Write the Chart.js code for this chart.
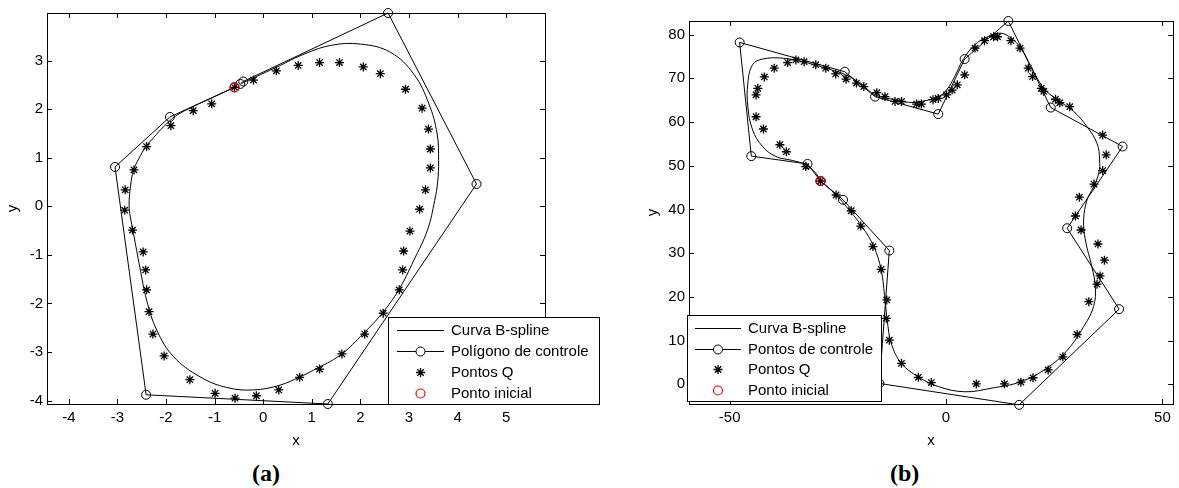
<!DOCTYPE html>
<html>
<head>
<meta charset="utf-8">
<script src="https://cdn.jsdelivr.net/npm/chart.js@4.4.1/dist/chart.umd.min.js"></script>
<style>
body { margin: 0; background: #fff; width: 1179px; height: 488px; position: relative; overflow: hidden; }
#chartA { position: absolute; left: 0; top: 0; }
#chartB { position: absolute; left: 640px; top: 0; }
.cap { position: absolute; top: 461px; font: bold 24px "Liberation Serif", "Times New Roman", serif; line-height: 24px; color: #000; }
</style>
</head>
<body>
<canvas id="chartA" width="600" height="450"></canvas>
<canvas id="chartB" width="539" height="450"></canvas>
<div class="cap" style="left:252px">(a)</div>
<div class="cap" style="left:890px">(b)</div>
<script>
// ---- data (a) ----
const curveA = [[-0.59,2.45],[-1.00,2.26],[-1.45,2.05],[-1.80,1.86],[-2.05,1.64],[-2.25,1.42],[-2.42,1.22],
  [-2.56,0.98],[-2.67,0.74],[-2.73,0.42],[-2.76,0.00],[-2.72,-0.30],[-2.67,-0.56],[-2.54,-1.25],[-2.40,-1.93],
  [-2.19,-2.55],[-1.85,-3.09],[-1.30,-3.51],[-0.75,-3.73],[-0.20,-3.78],[0.35,-3.68],[0.76,-3.51],[1.04,-3.37],
  [1.59,-3.06],[2.07,-2.61],[2.45,-2.20],[2.79,-1.72],[3.10,-1.11],[3.38,-0.49],[3.53,0.12],[3.59,0.50],
  [3.61,0.94],[3.58,1.49],[3.41,2.11],[3.10,2.72],[2.62,3.17],[2.00,3.34],[1.38,3.31],[0.76,3.10],[0.35,2.90],[-0.45,2.53]];
const polyA = [[-0.59,2.45],[-1.92,1.84],[-3.05,0.81],[-2.41,-3.88],[1.33,-4.07],[4.39,0.46],[2.57,3.98],[-0.41,2.57],[-0.47,2.52]];
const qA = [[-0.59,2.45],[-0.20,2.60],[0.27,2.79],[0.72,2.90],[1.16,2.96],[1.57,2.96],[2.06,2.87],[2.41,2.73],
  [2.93,2.41],[3.27,2.02],[3.40,1.59],[3.44,1.18],[3.44,0.79],[3.34,0.34],[3.22,-0.06],[3.02,-0.51],[2.89,-0.92],
  [2.87,-1.31],[2.80,-1.72],[2.47,-2.20],[2.09,-2.63],[1.62,-3.04],[1.16,-3.35],[0.75,-3.52],[0.32,-3.78],
  [-0.14,-3.90],[-0.58,-3.95],[-0.99,-3.85],[-1.51,-3.57],[-2.04,-3.08],[-2.27,-2.63],[-2.35,-2.17],[-2.40,-1.72],
  [-2.42,-1.31],[-2.47,-0.94],[-2.69,-0.49],[-2.85,-0.08],[-2.84,0.34],[-2.66,0.75],[-2.40,1.23],[-1.90,1.66],
  [-1.44,1.97],[-1.06,2.11]];
const startA = [-0.59,2.45];
const xTicksA = [-4,-3,-2,-1,0,1,2,3,4,5];
const yTicksA = [-4,-3,-2,-1,0,1,2,3];

// ---- data (b) ----
const curveB = [[-29.0,46.5],[-25.5,43.4],[-22.1,39.5],[-19.4,36.1],[-16.7,31.5],[-15.0,26.2],[-14.1,19.3],
  [-13.6,14.7],[-12.6,9.2],[-10.3,4.8],[-6.4,1.7],[-1.8,-0.5],[4.3,-1.7],[10.4,-0.9],[17.3,0.6],[23.3,3.7],
  [28.0,7.8],[31.8,13.2],[34.1,17.8],[34.5,22.3],[33.7,26.9],[32.2,33.0],[31.8,37.6],[32.6,42.2],[34.1,45.2],
  [35.3,48.3],[35.5,51.3],[34.9,55.1],[32.6,58.9],[29.5,62.4],[25.7,65.1],[22.6,67.7],[19.6,72.7],[17.3,76.9],
  [15.0,79.2],[12.7,80.3],[9.6,79.5],[6.6,77.6],[3.9,74.2],[2.0,70.4],[0.1,67.3],[-1.8,65.8],[-5.7,64.7],
  [-8.7,64.5],[-11.8,65.1],[-16.4,66.2],[-19.4,68.5],[-23.2,70.8],[-27.8,72.3],[-33.2,73.8],[-37.8,74.6],
  [-42.4,74.4],[-44.7,73.1],[-45.8,68.9],[-45.8,63.5],[-44.7,58.2],[-42.4,54.4],[-39.3,52.1],[-35.5,51.2],
  [-32.4,50.2],[-30.1,48.3],[-29.0,46.5]];
const polyB = [[-29.0,46.5],[-23.8,42.2],[-13.1,30.6],[-15.4,0.2],[16.9,-4.7],[40.0,17.2],[28.0,35.7],[40.8,54.4],
  [24.2,63.3],[14.4,83.1],[4.3,74.4],[-1.8,61.8],[-16.4,65.8],[-23.4,71.5],[-47.7,78.2],[-45.0,52.2],[-32.0,50.4],[-29.0,46.5]];
const qB = [[-36.6,73.6],[-34.7,74.2],[-32.8,73.8],[-30.1,73.1],[-27.8,72.3],[-25.5,71.0],[-23.1,69.8],[-20.7,68.9],
  [-19.0,68.1],[-16.0,66.7],[-14.1,65.8],[-11.8,64.7],[-10.3,64.7],[-39.7,72.3],[-42.0,70.3],[-43.5,67.7],
  [-43.9,66.2],[-43.9,61.2],[-42.2,58.4],[-38.4,54.8],[-36.9,53.2],[-32.4,49.8],[-29.0,46.5],[-25.4,43.3],
  [-21.9,39.7],[-19.7,36.2],[-16.9,31.5],[-15.0,26.3],[-13.7,19.3],[-13.8,15.1],[-13.1,10.1],[-10.3,4.8],
  [-6.4,1.6],[-3.4,0.4],[7.0,0.1],[13.5,0.1],[17.3,0.5],[20.1,1.5],[23.6,3.3],[27.0,6.3],[30.3,11.4],[33.0,18.9],
  [34.9,22.9],[35.6,24.8],[36.6,28.4],[35.1,32.1],[31.2,35.3],[29.9,38.5],[30.8,42.8],[34.2,45.8],[36.2,48.9],
  [37.0,52.5],[36.2,57.0],[28.6,63.5],[26.3,64.4],[25.3,65.2],[22.6,67.0],[22.0,67.7],[20.0,70.4],[19.0,72.3],
  [17.1,76.9],[15.0,78.6],[11.9,79.5],[11.0,79.5],[8.9,78.6],[6.7,76.9],[4.3,70.8],[2.6,68.5],[1.4,67.3],
  [0.1,66.2],[-1.8,65.4],[-3.0,65.1],[-5.7,64.1],[-6.8,64.1]];
const startB = [-29.0,46.5];
const xTicksB = [-50,0,50];
const yTicksB = [0,10,20,30,40,50,60,70,80];

const FONT = '"Liberation Sans", Arial, sans-serif';

function pts(arr) {
  return arr.map(p => ({x: p[0], y: p[1]}));
}

// order: higher is drawn first (underneath)
function makeDatasets(curve, poly, q, start, polyLabel) {
  return [
    {label: 'Curva B-spline', data: pts(curve), order: 4, showLine: true, borderColor: '#000', borderWidth: 1,
     pointRadius: 0, tension: 0.4, clip: false},
    {label: polyLabel, data: pts(poly), order: 3, showLine: true, borderColor: '#000', borderWidth: 1, tension: 0,
     pointStyle: 'circle', pointRadius: 4.5, pointBorderColor: '#000', pointBackgroundColor: 'rgba(0,0,0,0)',
     pointBorderWidth: 1, clip: false},
    {label: 'Pontos Q', data: pts(q), order: 2, showLine: false, pointStyle: 'star', pointRadius: 4.5,
     borderColor: '#000', pointBorderColor: '#000', pointBorderWidth: 1.3, clip: false},
    {label: 'Ponto inicial', data: pts([start]), order: 1, showLine: false, pointStyle: 'circle', pointRadius: 4.5,
     borderColor: '#f00', pointBorderColor: '#f00', pointBackgroundColor: 'rgba(0,0,0,0)',
     pointBorderWidth: 1.2, clip: false}
  ];
}

// box around the plot + inward ticks on all four sides
const frameTicks = {
  id: 'frameTicks',
  afterDraw(chart) {
    const {ctx, chartArea: a, scales} = chart;
    const len = 5;
    ctx.save();
    ctx.strokeStyle = '#000';
    ctx.lineWidth = 1;
    ctx.beginPath();
    scales.x.ticks.forEach(t => {
      const px = Math.round(scales.x.getPixelForValue(t.value)) + 0.5;
      ctx.moveTo(px, a.bottom); ctx.lineTo(px, a.bottom - len);
      ctx.moveTo(px, a.top); ctx.lineTo(px, a.top + len);
    });
    scales.y.ticks.forEach(t => {
      const py = Math.round(scales.y.getPixelForValue(t.value)) + 0.5;
      ctx.moveTo(a.left, py); ctx.lineTo(a.left + len, py);
      ctx.moveTo(a.right, py); ctx.lineTo(a.right - len, py);
    });
    ctx.stroke();
    ctx.strokeRect(Math.round(a.left) + 0.5, Math.round(a.top) + 0.5,
      Math.round(a.right - a.left), Math.round(a.bottom - a.top));
    ctx.restore();
  }
};

// MATLAB style legend box
const boxLegend = {
  id: 'boxLegend',
  afterDraw(chart, args, opts) {
    const ctx = chart.ctx;
    const [bx, by, bw, bh] = opts.box;
    ctx.save();
    ctx.fillStyle = '#fff';
    ctx.fillRect(bx, by, bw, bh);
    ctx.strokeStyle = '#000';
    ctx.lineWidth = 1;
    ctx.strokeRect(bx + 0.5, by + 0.5, bw, bh);
    ctx.font = '15px ' + FONT;
    ctx.textBaseline = 'middle';
    chart.data.datasets.forEach((ds, i) => {
      const y = Math.round(by + opts.firstRow + i * opts.rowHeight) + 0.5;
      const x0 = bx + opts.lineX, x1 = x0 + opts.lineLen, xm = (x0 + x1) / 2;
      ctx.lineWidth = 1;
      if (ds.showLine) {
        ctx.strokeStyle = ds.borderColor;
        ctx.beginPath(); ctx.moveTo(x0, y); ctx.lineTo(x1, y); ctx.stroke();
      }
      if (ds.pointRadius > 0) {
        const r = ds.pointRadius;
        ctx.strokeStyle = ds.pointBorderColor;
        ctx.lineWidth = ds.pointBorderWidth;
        ctx.beginPath();
        if (ds.pointStyle === 'star') {
          const d = r * Math.SQRT1_2;
          ctx.moveTo(xm - r, y); ctx.lineTo(xm + r, y);
          ctx.moveTo(xm, y - r); ctx.lineTo(xm, y + r);
          ctx.moveTo(xm - d, y - d); ctx.lineTo(xm + d, y + d);
          ctx.moveTo(xm - d, y + d); ctx.lineTo(xm + d, y - d);
        } else {
          ctx.fillStyle = '#fff';
          ctx.arc(xm, y, r, 0, Math.PI * 2);
          ctx.fill();
        }
        ctx.stroke();
      }
      ctx.fillStyle = '#000';
      ctx.fillText(ds.label, bx + opts.textX, y);
    });
    ctx.restore();
  }
};

function makeChart(id, cfg) {
  const tickFont = {family: FONT, size: 15};
  return new Chart(document.getElementById(id), {
    type: 'scatter',
    data: {datasets: makeDatasets(cfg.curve, cfg.poly, cfg.q, cfg.start, cfg.polyLabel)},
    plugins: [frameTicks, boxLegend],
    options: {
      responsive: false,
      animation: false,
      events: [],
      layout: {padding: cfg.padding},
      plugins: {
        legend: {display: false},
        tooltip: {enabled: false},
        boxLegend: cfg.legend
      },
      scales: {
        x: {
          type: 'linear', min: cfg.xRange[0], max: cfg.xRange[1],
          afterBuildTicks: s => { s.ticks = cfg.xTicks.map(v => ({value: v})); },
          afterFit: s => { s.height = 46; },
          grid: {display: false, drawTicks: false},
          border: {display: false},
          ticks: {color: '#000', font: tickFont, padding: 5, maxRotation: 0, autoSkip: false},
          title: {display: true, text: 'x', color: '#000', font: tickFont, padding: {top: 0, bottom: 0}}
        },
        y: {
          type: 'linear', min: cfg.yRange[0], max: cfg.yRange[1],
          afterBuildTicks: s => { s.ticks = cfg.yTicks.map(v => ({value: v})); },
          afterFit: s => { s.width = cfg.yWidth; },
          grid: {display: false, drawTicks: false},
          border: {display: false},
          ticks: {color: '#000', font: tickFont, padding: 4, autoSkip: false},
          title: {display: true, text: 'y', color: '#000', font: tickFont, padding: {top: 4, bottom: 0}}
        }
      }
    }
  });
}

makeChart('chartA', {
  curve: curveA, poly: polyA, q: qA, start: startA, polyLabel: 'Polígono de controle',
  xRange: [-4.45, 5.8], yRange: [-4.07, 3.98], xTicks: xTicksA, yTicks: yTicksA,
  yWidth: 47, padding: {top: 12, right: 55, left: 0, bottom: 0},
  legend: {box: [388, 317, 211, 87], firstRow: 13, rowHeight: 21, lineX: 9, lineLen: 47, textX: 63}
});

makeChart('chartB', {
  curve: curveB, poly: polyB, q: qB, start: startB, polyLabel: 'Pontos de controle',
  xRange: [-59.4, 52.5], yRange: [-4.5, 83.1], xTicks: xTicksB, yTicks: yTicksB,
  yWidth: 49, padding: {top: 21, right: 2, left: 0, bottom: 0},
  legend: {box: [47, 315, 194, 86], firstRow: 13, rowHeight: 20.5, lineX: 8, lineLen: 46, textX: 61}
});
</script>
</body>
</html>
